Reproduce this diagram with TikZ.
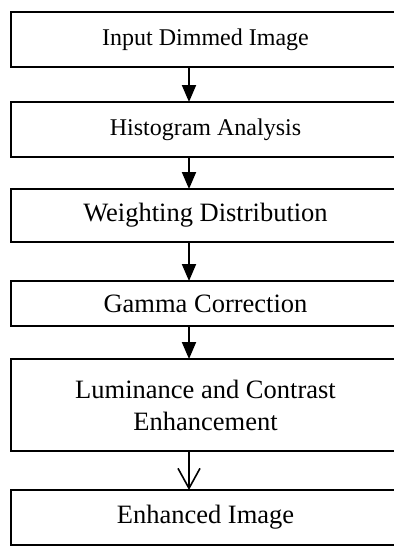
\documentclass[tikz,border=0pt]{standalone}
\usepackage{fontspec}
\setmainfont{Liberation Serif}
\usetikzlibrary{arrows.meta,positioning}
\tikzset{
  box/.style={draw, line width=0.9pt, rectangle, minimum width=194.5pt,
              inner sep=2pt, outer sep=0pt, align=center},
  smallbox/.style={box, font=\fontsize{12}{14}\selectfont},
  bigbox/.style={box, font=\fontsize{13.25}{16}\selectfont},
  arr/.style={-{Triangle[length=8.5pt, width=7pt]}, line width=1pt},
  openarr/.style={-{Straight Barb[length=10pt, width=11pt]}, line width=0.8pt},
}
\begin{document}
\begin{tikzpicture}
\useasboundingbox (0,0) rectangle (197pt,-273pt);
\clip (0,0) rectangle (197pt,-273pt);

\node[smallbox, minimum height=27.5pt, anchor=north west] (input) at (5.5pt,-6pt) {Input Dimmed Image};
\node[smallbox, minimum height=27.5pt, below=17.5pt of input] (hist) {Histogram Analysis};
\node[bigbox, minimum height=26.5pt, below=16pt of hist] (weight) {Weighting Distribution};
\node[bigbox, minimum height=22.5pt, below=19.5pt of weight] (gamma) {Gamma Correction};
\node[bigbox, minimum height=46pt, below=16.5pt of gamma] (lumi) {Luminance and Contrast\\Enhancement};
\node[bigbox, minimum height=27.5pt, below=19.5pt of lumi] (out) {Enhanced Image};

% arrows run down a common line left of the box centres
\coordinate (ax) at (94.5pt,0);
\draw[arr] (input.south -| ax) -- (hist.north -| ax);
\draw[arr] (hist.south -| ax) -- (weight.north -| ax);
\draw[arr] (weight.south -| ax) -- (gamma.north -| ax);
\draw[arr] (gamma.south -| ax) -- (lumi.north -| ax);
\draw[openarr] (lumi.south -| ax) -- (out.north -| ax);

\end{tikzpicture}
\end{document}
